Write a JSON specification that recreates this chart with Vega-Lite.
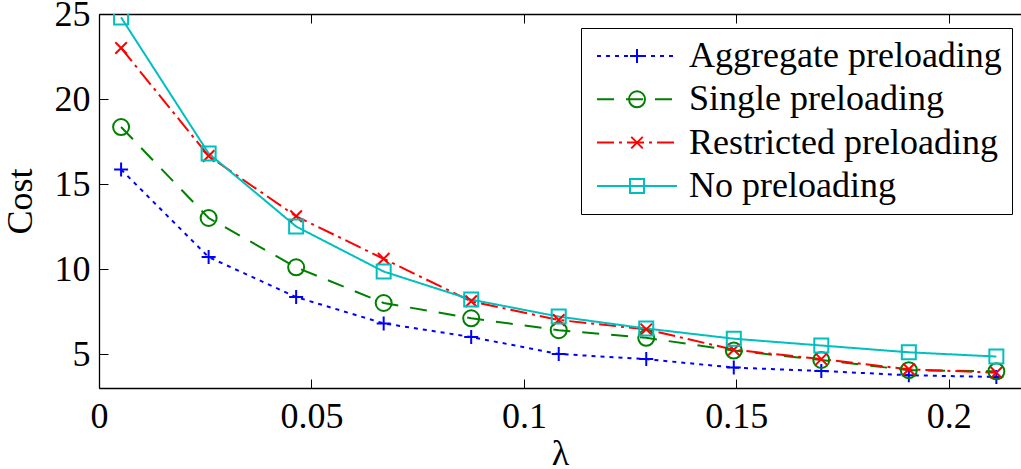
{
  "$schema": "https://vega.github.io/schema/vega-lite/v6.json",
  "width": 922,
  "height": 374,
  "autosize": {"type": "none"},
  "padding": {"left": 99, "top": 14, "right": 0, "bottom": 81},
  "background": "white",
  "config": {"view": {"stroke": null}, "font": "'Times New Roman', Times, 'Liberation Serif', 'DejaVu Serif', serif"},
  "data": {
    "values": [
      {"lambda": 0.0052, "cost": 15.85, "series": "Aggregate preloading"},
      {"lambda": 0.0258, "cost": 10.7, "series": "Aggregate preloading"},
      {"lambda": 0.0464, "cost": 8.35, "series": "Aggregate preloading"},
      {"lambda": 0.067, "cost": 6.8, "series": "Aggregate preloading"},
      {"lambda": 0.0876, "cost": 6.0, "series": "Aggregate preloading"},
      {"lambda": 0.1082, "cost": 5.0, "series": "Aggregate preloading"},
      {"lambda": 0.1288, "cost": 4.7, "series": "Aggregate preloading"},
      {"lambda": 0.1494, "cost": 4.2, "series": "Aggregate preloading"},
      {"lambda": 0.17, "cost": 4.0, "series": "Aggregate preloading"},
      {"lambda": 0.1906, "cost": 3.75, "series": "Aggregate preloading"},
      {"lambda": 0.2112, "cost": 3.65, "series": "Aggregate preloading"},
      {"lambda": 0.0052, "cost": 18.35, "series": "Single preloading"},
      {"lambda": 0.0258, "cost": 13.0, "series": "Single preloading"},
      {"lambda": 0.0464, "cost": 10.1, "series": "Single preloading"},
      {"lambda": 0.067, "cost": 8.0, "series": "Single preloading"},
      {"lambda": 0.0876, "cost": 7.1, "series": "Single preloading"},
      {"lambda": 0.1082, "cost": 6.4, "series": "Single preloading"},
      {"lambda": 0.1288, "cost": 5.95, "series": "Single preloading"},
      {"lambda": 0.1494, "cost": 5.2, "series": "Single preloading"},
      {"lambda": 0.17, "cost": 4.65, "series": "Single preloading"},
      {"lambda": 0.1906, "cost": 4.05, "series": "Single preloading"},
      {"lambda": 0.2112, "cost": 3.98, "series": "Single preloading"},
      {"lambda": 0.0052, "cost": 23.0, "series": "Restricted preloading"},
      {"lambda": 0.0258, "cost": 16.65, "series": "Restricted preloading"},
      {"lambda": 0.0464, "cost": 13.1, "series": "Restricted preloading"},
      {"lambda": 0.067, "cost": 10.6, "series": "Restricted preloading"},
      {"lambda": 0.0876, "cost": 8.1, "series": "Restricted preloading"},
      {"lambda": 0.1082, "cost": 7.0, "series": "Restricted preloading"},
      {"lambda": 0.1288, "cost": 6.45, "series": "Restricted preloading"},
      {"lambda": 0.1494, "cost": 5.25, "series": "Restricted preloading"},
      {"lambda": 0.17, "cost": 4.7, "series": "Restricted preloading"},
      {"lambda": 0.1906, "cost": 4.1, "series": "Restricted preloading"},
      {"lambda": 0.2112, "cost": 3.9, "series": "Restricted preloading"},
      {"lambda": 0.0052, "cost": 24.8, "series": "No preloading"},
      {"lambda": 0.0258, "cost": 16.8, "series": "No preloading"},
      {"lambda": 0.0464, "cost": 12.5, "series": "No preloading"},
      {"lambda": 0.067, "cost": 9.85, "series": "No preloading"},
      {"lambda": 0.0876, "cost": 8.2, "series": "No preloading"},
      {"lambda": 0.1082, "cost": 7.2, "series": "No preloading"},
      {"lambda": 0.1288, "cost": 6.5, "series": "No preloading"},
      {"lambda": 0.1494, "cost": 5.9, "series": "No preloading"},
      {"lambda": 0.17, "cost": 5.5, "series": "No preloading"},
      {"lambda": 0.1906, "cost": 5.1, "series": "No preloading"},
      {"lambda": 0.2112, "cost": 4.85, "series": "No preloading"}
    ]
  },
  "layer": [
    {
      "mark": {"type": "line", "strokeWidth": 2, "clip": true},
      "encoding": {
        "x": {
          "field": "lambda", "type": "quantitative",
          "scale": {"domain": [0, 0.217], "nice": false, "zero": false},
          "axis": {
            "orient": "bottom", "values": [0, 0.05, 0.1, 0.15, 0.2], "format": "~g",
            "title": "λ", "titleFontSize": 36, "titleFontWeight": "normal", "titleColor": "black", "titlePadding": 2,
            "labelFontSize": 36, "labelColor": "black", "labelPadding": 20, "labelFlush": false, "labelOverlap": false, "labelBound": false,
            "tickSize": -9, "tickColor": "black", "tickWidth": 1, "domainColor": "black", "domainWidth": 1.3, "grid": false
          }
        },
        "y": {
          "field": "cost", "type": "quantitative",
          "scale": {"domain": [3, 25], "nice": false, "zero": false},
          "axis": {
            "values": [5, 10, 15, 20, 25],
            "title": "Cost", "titleFontSize": 36, "titleFontWeight": "normal", "titleColor": "black", "titlePadding": 15,
            "labelFontSize": 36, "labelColor": "black", "labelPadding": 18, "labelFlush": false, "labelOverlap": false, "labelBound": false,
            "tickSize": -9, "tickColor": "black", "tickWidth": 1, "domainColor": "black", "domainWidth": 1.3, "grid": false
          }
        },
        "color": {
          "field": "series", "type": "nominal",
          "scale": {"domain": ["Aggregate preloading", "Single preloading", "Restricted preloading", "No preloading"], "range": ["#0000ff", "#008000", "#ff0000", "#00bfbf"]},
          "legend": {
            "title": null, "orient": "none", "legendX": 482, "legendY": 14, "direction": "vertical",
            "symbolType": "stroke", "symbolSize": 6400, "symbolStrokeWidth": 2, "clipHeight": 36,
            "labelFontSize": 36, "labelColor": "black", "labelLimit": 1000,
            "labelOffset": 11, "symbolOffset": 5, "rowPadding": 7.3, "padding": 10,
            "strokeColor": "black", "fillColor": "white", "zindex": 1
          }
        },
        "strokeDash": {
          "field": "series", "type": "nominal",
          "scale": {"domain": ["Aggregate preloading", "Single preloading", "Restricted preloading", "No preloading"], "range": [[4, 5], [17, 12], [17, 5, 3, 5], [1, 0]]},
          "legend": {
            "title": null, "orient": "none", "legendX": 482, "legendY": 14, "direction": "vertical",
            "symbolType": "stroke", "symbolSize": 6400, "symbolStrokeWidth": 2, "clipHeight": 36,
            "labelFontSize": 36, "labelColor": "black", "labelLimit": 1000,
            "labelOffset": 11, "symbolOffset": 5, "rowPadding": 7.3, "padding": 10,
            "strokeColor": "black", "fillColor": "white", "zindex": 1
          }
        }
      }
    },
    {
      "mark": {"type": "point", "filled": false, "strokeWidth": 2, "size": 256, "opacity": 1, "clip": true},
      "encoding": {
        "x": {
          "field": "lambda", "type": "quantitative",
          "axis": {
            "orient": "top", "values": [0, 0.05, 0.1, 0.15, 0.2], "labels": false, "title": null,
            "tickSize": -9, "tickColor": "black", "tickWidth": 1, "domainColor": "black", "domainWidth": 1.3, "grid": false
          }
        },
        "y": {"field": "cost", "type": "quantitative"},
        "stroke": {
          "field": "series", "type": "nominal",
          "scale": {"range": ["#0000ff", "#00bfbf", "#ff0000", "#008000"]},
          "legend": {
            "title": null, "orient": "none", "legendX": 482, "legendY": 14, "direction": "vertical",
            "values": ["Aggregate preloading", "Single preloading", "Restricted preloading", "No preloading"],
            "symbolSize": 256, "symbolStrokeWidth": 2, "symbolFillColor": "transparent", "clipHeight": 36,
            "labelFontSize": 36, "labelColor": "transparent", "labelLimit": 1000,
            "labelOffset": 11, "symbolOffset": 28, "rowPadding": 7.3, "padding": 10, "zindex": 2
          }
        },
        "shape": {
          "field": "series", "type": "nominal",
          "scale": {"range": ["M-0.875,0H0.875M0,-0.875V0.875", "M-0.875,-0.875H0.875V0.875H-0.875Z", "M-0.72,-0.72L0.72,0.72M-0.72,0.72L0.72,-0.72", "circle"]},
          "legend": {
            "title": null, "orient": "none", "legendX": 482, "legendY": 14, "direction": "vertical",
            "values": ["Aggregate preloading", "Single preloading", "Restricted preloading", "No preloading"],
            "symbolSize": 256, "symbolStrokeWidth": 2, "symbolFillColor": "transparent", "clipHeight": 36,
            "labelFontSize": 36, "labelColor": "transparent", "labelLimit": 1000,
            "labelOffset": 11, "symbolOffset": 28, "rowPadding": 7.3, "padding": 10, "zindex": 2
          }
        }
      }
    }
  ],
  "resolve": {"axis": {"x": "independent"}}
}
